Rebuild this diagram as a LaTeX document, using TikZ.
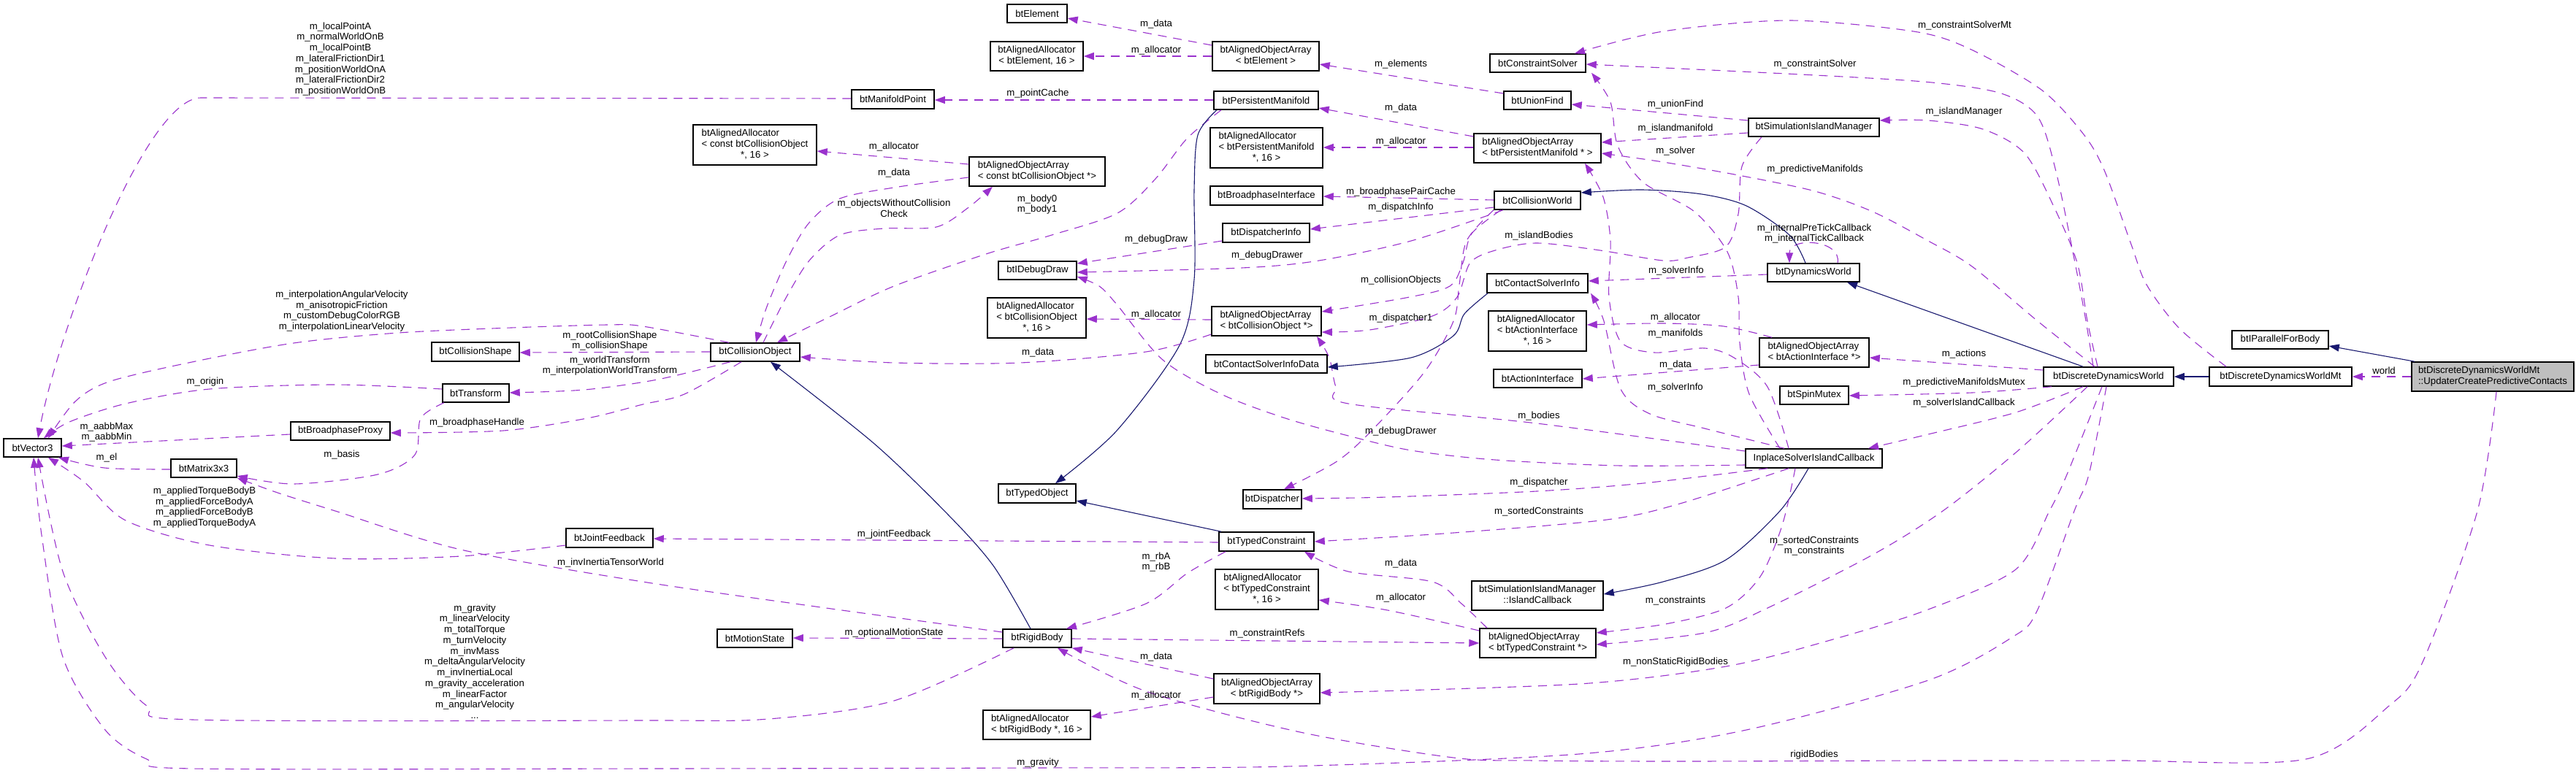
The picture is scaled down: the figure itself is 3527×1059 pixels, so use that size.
\documentclass[tikz,border=0pt]{standalone}
\usepackage{fontspec}
\setmainfont{Liberation Sans}
\usetikzlibrary{arrows.meta}
\definecolor{edgeP}{HTML}{9A32CD}
\definecolor{navyc}{HTML}{191970}
\definecolor{grayfill}{HTML}{BFBFBF}
\newcommand\boxfont{\fontsize{13.2}{15}\selectfont}
\newcommand\lblfont{\fontsize{13.2}{14.75}\selectfont}
\newcommand\twoln[2]{\begin{tabular}{@{}l@{}}#1\\\multicolumn{1}{@{}c@{}}{#2}\end{tabular}}
\newcommand\threeln[3]{\begin{tabular}{@{}l@{}}#1\\#2\\\multicolumn{1}{@{}c@{}}{#3}\end{tabular}}
\newcommand\bnode[7][]{\node[box,#1,minimum width={#4-#3},minimum height={#6-#5}] (#2) at ({(#3+#4)/2},{(#5+#6)/2}) {#7};}
\tikzset{
  box/.style={draw=black,line width=1.5pt,fill=white,inner sep=0pt,font=\boxfont},
  lbl/.style={inner sep=0pt,font=\lblfont,align=center},
  mem/.style={draw=edgeP,line width=1.1pt,dash pattern=on 12pt off 9pt,-{Triangle[length=14pt,width=10pt]}},
  inh/.style={draw=navyc,line width=1.1pt,-{Triangle[length=14pt,width=10pt]}},
}
\begin{document}
\begin{tikzpicture}[x=1pt,y=-1pt]
\useasboundingbox[fill=white] (0,0) rectangle (3527,1059);
% ---------------- nodes ----------------
\bnode{btElement}{1379}{1461}{6}{31}{btElement}
\bnode{AAel}{1356}{1483}{57}{97}{\twoln{btAlignedAllocator}{< btElement, 16 >}}
\bnode{AOAel}{1660}{1806}{57}{97}{\twoln{btAlignedObjectArray}{< btElement >}}
\bnode{MP}{1166}{1279}{123}{149}{btManifoldPoint}
\bnode{PM}{1662}{1805}{125}{150}{btPersistentManifold}
\bnode{AAcco}{949}{1118}{171}{226}{\threeln{btAlignedAllocator}{< const btCollisionObject}{*, 16 >}}
\bnode{AOAcco}{1327}{1513}{215}{255}{\twoln{btAlignedObjectArray}{< const btCollisionObject *>}}
\bnode{AApm}{1657}{1811}{175}{230}{\threeln{btAlignedAllocator}{< btPersistentManifold}{*, 16 >}}
\bnode{BI}{1657}{1811}{255}{281}{btBroadphaseInterface}
\bnode{DI}{1674}{1793}{306}{332}{btDispatcherInfo}
\bnode{CS}{2040}{2171}{74}{99}{btConstraintSolver}
\bnode{UF}{2059}{2151}{125}{150}{btUnionFind}
\bnode{SIM}{2394}{2573}{162}{187}{btSimulationIslandManager}
\bnode{AOApm}{2018}{2192}{183}{223}{\twoln{btAlignedObjectArray}{< btPersistentManifold * >}}
\bnode{CW}{2046}{2164}{262}{287}{btCollisionWorld}
\bnode{IDD}{1367}{1474}{358}{383}{btIDebugDraw}
\bnode{AAco}{1352}{1487}{408}{463}{\threeln{btAlignedAllocator}{< btCollisionObject}{*, 16 >}}
\bnode{AOAco}{1659}{1809}{420}{460}{\twoln{btAlignedObjectArray}{< btCollisionObject *>}}
\bnode{CSID}{1651}{1817}{486}{511}{btContactSolverInfoData}
\bnode{DISP}{1702}{1782}{671}{697}{btDispatcher}
\bnode{TO}{1367}{1473}{663}{689}{btTypedObject}
\bnode{CO}{973}{1095}{470}{495}{btCollisionObject}
\bnode{CSI}{2036}{2174}{375}{401}{btContactSolverInfo}
\bnode{AAai}{2038}{2172}{426}{481}{\threeln{btAlignedAllocator}{< btActionInterface}{*, 16 >}}
\bnode{AI}{2045}{2166}{506}{531}{btActionInterface}
\bnode{AOAai}{2409}{2559}{463}{503}{\twoln{btAlignedObjectArray}{< btActionInterface *>}}
\bnode{SM}{2437}{2531}{529}{554}{btSpinMutex}
\bnode{DW}{2420}{2546}{361}{386}{btDynamicsWorld}
\bnode{ISIC}{2390}{2577}{615}{641}{InplaceSolverIslandCallback}
\bnode{DDW}{2798}{2976}{503}{529}{btDiscreteDynamicsWorld}
\bnode{DDWMt}{3025}{3220}{503}{529}{btDiscreteDynamicsWorldMt}
\bnode{IPFB}{3056}{3188}{453}{478}{btIParallelForBody}
\bnode[fill=grayfill]{UPD}{3302}{3524}{496}{536}{\twoln{btDiscreteDynamicsWorldMt}{::UpdaterCreatePredictiveContacts}}
\bnode{V3}{5}{84}{601}{626}{btVector3}
\bnode{CShape}{591}{711}{469}{495}{btCollisionShape}
\bnode{TR}{606}{697}{526}{551}{btTransform}
\bnode{BP}{398}{534}{578}{603}{btBroadphaseProxy}
\bnode{M3}{234}{324}{629}{654}{btMatrix3x3}
\bnode{JF}{775}{894}{724}{750}{btJointFeedback}
\bnode{TC}{1669}{1799}{729}{755}{btTypedConstraint}
\bnode{AAtc}{1664}{1805}{780}{835}{\threeln{btAlignedAllocator}{< btTypedConstraint}{*, 16 >}}
\bnode{SIMCB}{2015}{2195}{796}{836}{\twoln{btSimulationIslandManager}{::IslandCallback}}
\bnode{AOAtc}{2026}{2185}{861}{901}{\twoln{btAlignedObjectArray}{< btTypedConstraint *>}}
\bnode{MS}{982}{1085}{862}{887}{btMotionState}
\bnode{RB}{1373}{1467}{862}{887}{btRigidBody}
\bnode{AOArb}{1662}{1807}{923}{964}{\twoln{btAlignedObjectArray}{< btRigidBody *>}}
\bnode{AArb}{1346}{1493}{973}{1013}{\twoln{btAlignedAllocator}{< btRigidBody *, 16 >}}
% ---------------- edges ----------------
\draw[mem] (AOAel.west |- 0,62) -- (btElement.east |- 0,25);
\draw[mem] (AOAel.west |- 0,77) -- (AAel.east |- 0,77);
\draw[mem] (PM.west |- 0,137) -- (MP.east |- 0,137);
\draw[mem] (MP.west |- 0,135) -- (275,134) .. controls (200,134) and (80,450) .. (52,0 |- V3.north);
\draw[mem] (AOAcco.west |- 0,225) -- (AAcco.east |- 0,207);
\draw[mem] plot[smooth] coordinates {(AOAcco.west |- 0,243) (1230,256) (1150,272) (1108,305) (1078,355) (1050,420) (1035,0 |- CO.north)};
\draw[mem] plot[smooth] coordinates {(1045,0 |- CO.north) (1075,410) (1108,357) (1150,322) (1210,313) (1282,311) (1325,285) (1359,0 |- AOAcco.south)};
\draw[mem] plot[smooth] coordinates {(1672,0 |- PM.south) (1625,190) (1582,245) (1530,292) (1440,322) (1350,348) (1224,392) (1138,433) (1064,0 |- CO.north)};
\draw[inh] plot[smooth] coordinates {(1666,0 |- PM.south) (1640,185) (1635,260) (1635,383) (1615,473) (1529,590) (1445,0 |- TO.north)};
\draw[mem] (UF.west |- 0,128) -- (AOAel.east |- 0,88);
\draw[mem] (AOApm.west |- 0,187) -- (PM.east |- 0,148);
\draw[mem] (AOApm.west |- 0,202) -- (AApm.east |- 0,202);
\draw[mem] (CW.west |- 0,274) -- (BI.east |- 0,269);
\draw[mem] (CW.west |- 0,284) -- (DI.east |- 0,314);
\draw[mem] (DI.west |- 0,330) -- (IDD.east |- 0,361);
\draw[mem] plot[smooth] coordinates {(2058,0 |- CW.south) (1932,330) (1806,357) (1700,367) (IDD.east |- 0,373)};
\draw[mem] plot[smooth] coordinates {(2866,0 |- DDW.north) (2856,440) (2841,360) (2815,235) (2790,160) (2740,128) (2645,113) (2485,103) (CS.east |- 0,88)};
\draw[mem] plot[smooth] coordinates {(3048,0 |- DDWMt.north) (2984,450) (2939,390) (2918,335) (2881,233) (2852,183) (2795,123) (2697,67) (2620,43) (2449,28) (2277,43) (2156,0 |- CS.north)};
\draw[mem] (SIM.west |- 0,165) -- (UF.east |- 0,143);
\draw[mem] (SIM.west |- 0,182) -- (AOApm.east |- 0,195);
\draw[mem] plot[smooth] coordinates {(2872,0 |- DDW.north) (2858,440) (2844,360) (2812,283) (2772,210) (2715,177) (2640,165) (SIM.east |- 0,165)};
\draw[mem] plot[smooth] coordinates {(2868,0 |- DDW.north) (2790,440) (2700,365) (2640,330) (2564,290) (2485,262) (2380,240) (2277,222) (AOApm.east |- 0,210)};
\draw[mem] plot[smooth] coordinates {(2437,0 |- ISIC.north) (2395,540) (2382,470) (2380,407) (2365,345) (2320,290) (2250,250) (2215,200) (2205,140) (2179,0 |- CS.south)};
\draw[mem] plot[smooth] coordinates {(2449,0 |- ISIC.north) (2420,530) (2374,490) (2334,477) (2265,483) (2219,468) (2203,407) (2205,330) (2195,270) (2170,0 |- AOApm.south)};
\draw[mem] (DW.west |- 0,376) -- (CSI.east |- 0,385);
\draw[mem] plot[smooth] coordinates {(2443,0 |- ISIC.north) (2334,587) (2259,567) (2219,533) (2196,440) (2178,0 |- CSI.south)};
\draw[mem] (2516,0 |- DW.north) .. controls (2522,328) and (2450,324) .. (2450,0 |- DW.north);
\draw[inh] plot[smooth] coordinates {(2472,0 |- DW.north) (2450,322) (2391,282) (2330,266) (2248,260) (CW.east |- 0,264)};
\draw[mem] plot[smooth] coordinates {(2412,0 |- SIM.south) (2385,228) (2380,293) (2363,338) (2311,353) (2277,357) (2191,343) (2104,333) (2047,343) (2013,360) (1995,407) (1961,433) (1875,452) (AOAco.east |- 0,455)};
\draw[mem] plot[smooth] coordinates {(2055,0 |- CW.south) (2015,320) (2003,360) (1985,392) (1930,407) (AOAco.east |- 0,427)};
\draw[mem] plot[smooth] coordinates {(2045,0 |- CW.south) (2008,330) (1998,390) (1990,440) (1950,510) (1875,593) (1829,633) (1758,0 |- DISP.north)};
\draw[mem] plot[smooth] coordinates {(ISIC.west |- 0,637) (2219,638) (2047,630) (1932,617) (1846,597) (1760,573) (1672,540) (1592,493) (1529,417) (1505,392) (IDD.east |- 0,379)};
\draw[mem] plot[smooth] coordinates {(ISIC.west |- 0,618) (2104,580) (1846,553) (1829,530) (1820,490) (1803,0 |- AOAco.south)};
\draw[mem] plot[smooth] coordinates {(2420,0 |- ISIC.south) (2250,662) (2104,673) (1900,681) (DISP.east |- 0,683)};
\draw[mem] plot[smooth] coordinates {(2449,0 |- ISIC.south) (2300,690) (2200,712) (1990,730) (TC.east |- 0,742)};
\draw[inh] plot[smooth] coordinates {(2476,0 |- ISIC.south) (2437,700) (2363,767) (2277,797) (SIMCB.east |- 0,814)};
\draw[mem] plot[smooth] coordinates {(2458,0 |- ISIC.south) (2440,720) (2410,790) (2363,833) (2280,855) (AOAtc.east |- 0,867)};
\draw[mem] plot[smooth] coordinates {(2858,0 |- DDW.south) (2760,620) (2660,700) (2564,760) (2420,833) (2334,867) (AOAtc.east |- 0,883)};
\draw[mem] plot[smooth] coordinates {(2878,0 |- DDW.south) (2830,650) (2806,700) (2760,780) (2640,835) (2506,877) (2363,913) (2162,937) (AOArb.east |- 0,949)};
\draw[mem] plot[smooth] coordinates {(2884,0 |- DDW.south) (2860,650) (2840,700) (2789,837) (2755,873) (2640,932) (2391,1000) (2162,1033) (1760,1050) (1421,1052) (900,1053) (264,1053) (201,1040) (144,1000) (86,900) (57,733) (46,0 |- V3.south)};
\draw[mem] plot[smooth] coordinates {(2852,0 |- DDW.south) (2760,565) (2640,595) (2558,0 |- ISIC.north)};
\draw[mem] plot[smooth] coordinates {(2809,0 |- DDW.south) (2700,538) (SM.east |- 0,542)};
\draw[mem] (DDW.west |- 0,507) -- (AOAai.east |- 0,490);
\draw[inh] (2852,0 |- DDW.north) -- (2529,0 |- DW.south);
\draw[inh] (DDWMt.west) -- (DDW.east);
\draw[inh] (3306,0 |- UPD.north) -- (IPFB.east |- 0,474);
\draw[mem] (UPD.west |- 0,516) -- (DDWMt.east |- 0,516);
\draw[mem] plot[smooth] coordinates {(3418,0 |- UPD.south) (3392,700) (3317,907) (3271,967) (3157,1040) (2900,1042) (2640,1042) (2300,1043) (2100,1042) (1990,1038) (1780,1003) (1569,947) (1448,0 |- RB.south)};
\draw[inh] plot[smooth] coordinates {(2037,0 |- CSI.south) (2005,430) (1990,460) (1932,490) (CSID.east |- 0,503)};
\draw[mem] plot[smooth] coordinates {(2426,0 |- AOAai.north) (2360,447) (2277,443) (AAai.east |- 0,445)};
\draw[mem] (AOAai.west |- 0,500) -- (AI.east |- 0,519);
\draw[mem] (AOAco.west |- 0,438) -- (AAco.east |- 0,437);
\draw[mem] plot[smooth] coordinates {(AOAco.west |- 0,458) (1569,482) (1397,497) (1224,497) (CO.east |- 0,489)};
\draw[inh] plot[smooth] coordinates {(1411,0 |- RB.north) (1360,775) (1298,705) (1196,607) (1055,0 |- CO.south)};
\draw[inh] (1672,0 |- TC.north) -- (TO.east |- 0,686);
\draw[mem] (CO.west |- 0,482) -- (CShape.east |- 0,483);
\draw[mem] plot[smooth] coordinates {(1000,0 |- CO.south) (900,520) (800,534) (TR.east |- 0,538)};
\draw[mem] plot[smooth] coordinates {(1015,0 |- CO.south) (937,540) (880,554) (804,573) (689,590) (BP.east |- 0,593)};
\draw[mem] plot[smooth] coordinates {(998,0 |- CO.north) (880,447) (832,445) (700,449) (545,456) (402,470) (258,497) (149,523) (103,550) (66,0 |- V3.north)};
\draw[mem] plot[smooth] coordinates {(TR.west |- 0,533) (459,527) (287,533) (172,553) (95,578) (60,0 |- V3.north)};
\draw[mem] (BP.west |- 0,595) -- (V3.east |- 0,611);
\draw[mem] plot[smooth] coordinates {(M3.west |- 0,643) (143,641) (80,0 |- V3.south)};
\draw[mem] plot[smooth] coordinates {(608,0 |- TR.south) (576,573) (568,623) (517,650) (402,663) (M3.east |- 0,652)};
\draw[mem] plot[smooth] coordinates {(RB.west |- 0,866) (1124,832) (880,797) (631,753) (459,700) (380,675) (M3.south east)};
\draw[mem] plot[smooth] coordinates {(JF.west |- 0,747) (631,762) (459,765) (287,747) (172,713) (115,660) (66,0 |- V3.south)};
\draw[mem] (TC.west |- 0,743) -- (JF.east |- 0,738);
\draw[mem] plot[smooth] coordinates {(1678,0 |- TC.south) (1626,785) (1569,827) (1460,0 |- RB.north)};
\draw[mem] (RB.west |- 0,875) -- (MS.east |- 0,874);
\draw[mem] (RB.east |- 0,875) -- (AOAtc.west |- 0,881);
\draw[mem] plot[smooth] coordinates {(2036,0 |- AOAtc.north) (2001,827) (1961,797) (1846,783) (1786,0 |- TC.south)};
\draw[mem] plot[smooth] coordinates {(AOAtc.west |- 0,864) (1900,836) (AAtc.east |- 0,822)};
\draw[mem] (AOArb.west |- 0,930) -- (RB.south east);
\draw[mem] (AOArb.west |- 0,955) -- (AArb.east |- 0,982);
\draw[mem] plot[smooth] coordinates {(1388,0 |- RB.south) (1224,960) (1052,985) (880,987) (264,986) (201,967) (144,900) (86,783) (52,0 |- V3.south)};
% ---------------- labels ----------------
\node[lbl] (l1) at (466,81) {m\_localPointA\\m\_normalWorldOnB\\m\_localPointB\\m\_lateralFrictionDir1\\m\_positionWorldOnA\\m\_lateralFrictionDir2\\m\_positionWorldOnB};
\node[lbl] (l2) at (1583,33) {m\_data};
\node[lbl] (l3) at (1583,69) {m\_allocator};
\node[lbl] (l4) at (1421,128) {m\_pointCache};
\node[lbl] (l5) at (1224,201) {m\_allocator};
\node[lbl] (l6) at (1224,237) {m\_data};
\node[lbl] (l7) at (1224,285) {m\_objectsWithoutCollision\\Check};
\node[lbl] (l8) at (1420,280) {m\_body0\\m\_body1};
\node[lbl] (l9) at (1918,88) {m\_elements};
\node[lbl] (l10) at (1918,148) {m\_data};
\node[lbl] (l11) at (1918,194) {m\_allocator};
\node[lbl] (l12) at (1918,263) {m\_broadphasePairCache};
\node[lbl] (l13) at (1918,284) {m\_dispatchInfo};
\node[lbl] (l14) at (1583,328) {m\_debugDraw};
\node[lbl] (l15) at (1735,350) {m\_debugDrawer};
\node[lbl] (l16) at (2485,88) {m\_constraintSolver};
\node[lbl] (l17) at (2690,35) {m\_constraintSolverMt};
\node[lbl] (l18) at (2294,143) {m\_unionFind};
\node[lbl] (l19) at (2294,176) {m\_islandmanifold};
\node[lbl] (l20) at (2689,153) {m\_islandManager};
\node[lbl] (l21) at (2294,207) {m\_solver};
\node[lbl] (l22) at (2485,232) {m\_predictiveManifolds};
\node[lbl] (l23) at (2484,320) {m\_internalPreTickCallback\\m\_internalTickCallback};
\node[lbl] (l24) at (2107,323) {m\_islandBodies};
\node[lbl] (l25) at (2295,371) {m\_solverInfo};
\node[lbl] (l26) at (1918,384) {m\_collisionObjects};
\node[lbl] (l27) at (1918,436) {m\_dispatcher1};
\node[lbl] (l28) at (1583,431) {m\_allocator};
\node[lbl] (l29) at (1421,483) {m\_data};
\node[lbl] (l30) at (2294,435) {m\_allocator};
\node[lbl] (l31) at (2294,457) {m\_manifolds};
\node[lbl] (l32) at (2294,500) {m\_data};
\node[lbl] (l33) at (2294,531) {m\_solverInfo};
\node[lbl] (l34) at (2689,485) {m\_actions};
\node[lbl] (l35) at (2689,524) {m\_predictiveManifoldsMutex};
\node[lbl] (l36) at (2689,552) {m\_solverIslandCallback};
\node[lbl] (l37) at (2107,570) {m\_bodies};
\node[lbl] (l38) at (1918,591) {m\_debugDrawer};
\node[lbl] (l39) at (2107,661) {m\_dispatcher};
\node[lbl] (l40) at (2107,701) {m\_sortedConstraints};
\node[lbl] (l41) at (3264,508) {world};
\node[lbl] (l42) at (468,426) {m\_interpolationAngularVelocity\\m\_anisotropicFriction\\m\_customDebugColorRGB\\m\_interpolationLinearVelocity};
\node[lbl] (l43) at (835,467) {m\_rootCollisionShape\\m\_collisionShape};
\node[lbl] (l44) at (835,501) {m\_worldTransform\\m\_interpolationWorldTransform};
\node[lbl] (l45) at (281,523) {m\_origin};
\node[lbl] (l46) at (653,579) {m\_broadphaseHandle};
\node[lbl] (l47) at (146,592) {m\_aabbMax\\m\_aabbMin};
\node[lbl] (l48) at (146,627) {m\_el};
\node[lbl] (l49) at (468,623) {m\_basis};
\node[lbl] (l50) at (280,695) {m\_appliedTorqueBodyB\\m\_appliedForceBodyA\\m\_appliedForceBodyB\\m\_appliedTorqueBodyA};
\node[lbl] (l51) at (1224,732) {m\_jointFeedback};
\node[lbl] (l52) at (836,771) {m\_invInertiaTensorWorld};
\node[lbl] (l53) at (1583,770) {m\_rbA\\m\_rbB};
\node[lbl] (l54) at (2484,748) {m\_sortedConstraints\\m\_constraints};
\node[lbl] (l55) at (1918,772) {m\_data};
\node[lbl] (l56) at (1918,819) {m\_allocator};
\node[lbl] (l57) at (2294,823) {m\_constraints};
\node[lbl] (l58) at (1224,867) {m\_optionalMotionState};
\node[lbl] (l59) at (1735,868) {m\_constraintRefs};
\node[lbl] (l60) at (2294,907) {m\_nonStaticRigidBodies};
\node[lbl] (l61) at (1583,900) {m\_data};
\node[lbl] (l62) at (1583,953) {m\_allocator};
\node[lbl] (l63) at (650,906) {m\_gravity\\m\_linearVelocity\\m\_totalTorque\\m\_turnVelocity\\m\_invMass\\m\_deltaAngularVelocity\\m\_invInertiaLocal\\m\_gravity\_acceleration\\m\_linearFactor\\m\_angularVelocity\\...};
\node[lbl] (l64) at (1421,1045) {m\_gravity};
\node[lbl] (l65) at (2484,1034) {rigidBodies};
\end{tikzpicture}
\end{document}
